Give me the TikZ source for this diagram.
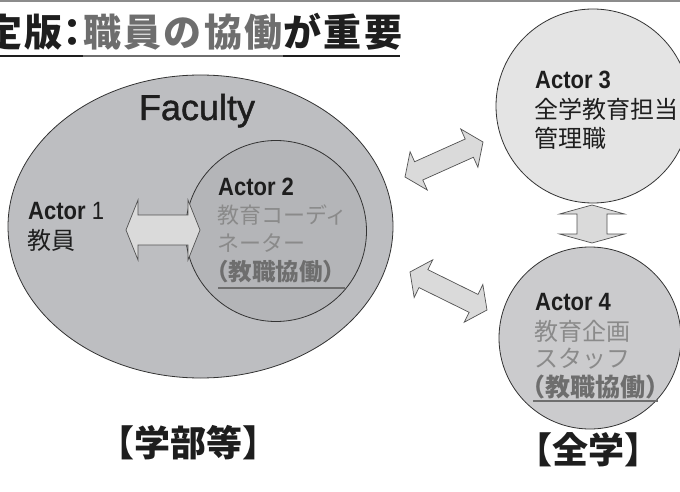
\documentclass[tikz,border=0pt]{standalone}
\usepackage{fontspec}
\setmainfont{Liberation Sans}
\newfontfamily\jp{Noto Sans CJK JP}
\newfontfamily\jpt[LetterSpace=6.5]{Noto Sans CJK JP}
\newfontfamily\nar[FakeStretch=0.88]{Liberation Sans}
\newfontfamily\facfont[FakeBold=1.2]{Liberation Sans}
\usetikzlibrary{shapes.geometric,calc}
\definecolor{bandgray}{HTML}{8C8C8C}
\definecolor{titlegray}{HTML}{6E6E6E}
\definecolor{facgray}{HTML}{BDBEC1}
\definecolor{innergray}{HTML}{B4B5B8}
\definecolor{a3gray}{HTML}{E4E4E4}
\definecolor{a4gray}{HTML}{CBCBCD}
\definecolor{arrgray}{HTML}{DADADA}
\definecolor{linegray}{HTML}{333333}
\definecolor{ltext}{HTML}{8A8A8A}
\definecolor{btext}{HTML}{6E6E6E}
\definecolor{ink}{HTML}{1E1E1E}
\tikzset{
  lbl/.style={inner sep=0pt, anchor=base west, text=ink},
  blob/.style={draw=linegray, line width=0.8pt, inner sep=0pt},
  blockarrow/.style={draw=linegray!85, line width=0.7pt, fill=arrgray, line join=miter},
  actorfont/.style={font=\nar\bfseries\fontsize{25}{28}\selectfont},
  jpfont/.style={font=\jp\fontsize{24}{28}\selectfont},
  jpsmall/.style={font=\jp\fontsize{22}{28}\selectfont},
  titlefont/.style={font=\jpt\bfseries\fontsize{38}{40}\selectfont},
  ul/.style={line width=2pt}
}
\newcommand\dblarrow[6]{%
  \coordinate (#1-p) at ($(#2)!#4!(#3)$);
  \coordinate (#1-q) at ($(#3)!#4!(#2)$);
  \draw[blockarrow] (#2) -- ($(#1-p)!#5!90:(#3)$) -- ($(#1-p)!#6!90:(#3)$)
    -- ($(#1-q)!#6!-90:(#2)$) -- ($(#1-q)!#5!-90:(#2)$) -- (#3)
    -- ($(#1-q)!#5!90:(#2)$) -- ($(#1-q)!#6!90:(#2)$)
    -- ($(#1-p)!#6!-90:(#3)$) -- ($(#1-p)!#5!-90:(#3)$) -- cycle;
}
\begin{document}
\begin{tikzpicture}[x=1pt,y=-1pt]
\useasboundingbox (0,0) rectangle (680,492);
\fill[white] (0,0) rectangle (680,492);
\fill[bandgray] (0,0) rectangle (680,2.5);

% title
\node[lbl, titlefont] (t1) at (-16,47) {定版\kern-9pt：\kern-9pt};
\node[lbl, titlefont, text=titlegray] (t2) at (t1.base east) {職員の協働};
\node[lbl, titlefont] (t3) at (t2.base east) {が重要};
\draw[ul, ink] ([yshift=-9pt]t1.base west) -- ([yshift=-9pt]t1.base east);
\draw[ul, titlegray] ([yshift=-9pt]t2.base west) -- ([yshift=-9pt]t2.base east);
\draw[ul, ink] ([yshift=-9pt]t3.base west) -- ([yshift=-9pt,xshift=-2pt]t3.base east);

% faculty
\node[blob, fill=facgray, ellipse, minimum width=385pt, minimum height=303pt] (fac) at (200.5,226.5) {};
\node[inner sep=0pt, anchor=base, text=ink, font=\facfont\fontsize{36}{40}\selectfont] (factxt) at (197,120) {Faculty};
\node[blob, fill=innergray, circle, minimum size=181pt] (inner) at (276,231) {};

% actor 3 and 4
\node[blob, fill=a3gray, circle, minimum size=194pt] (c3) at (593,106) {};
\node[blob, fill=a4gray, circle, minimum size=182pt] (c4) at (590,338) {};

% arrows
\coordinate (h-a) at (126,230); \coordinate (h-b) at (200,230);
\dblarrow{h}{h-a}{h-b}{12pt}{30pt}{15pt}
\coordinate (v-a) at (592,205); \coordinate (v-b) at (592,243);
\dblarrow{v}{v-a}{v-b}{9pt}{32.5pt}{15pt}
\coordinate (u-a) at (405,177); \coordinate (u-b) at (483,142);
\dblarrow{u}{u-a}{u-b}{15pt}{21pt}{10pt}
\coordinate (d-a) at (410,272); \coordinate (d-b) at (487,310);
\dblarrow{d}{d-a}{d-b}{15pt}{21pt}{10pt}

% actor 1
\node[lbl, font=\nar\fontsize{25}{28}\selectfont] (a1) at (28,219) {{\bfseries Actor} 1};
\node[lbl, jpfont] (a1j) at (27,249) {教員};

% actor 2
\node[lbl, actorfont] (a2) at (218,195) {Actor 2};
\node[lbl, jpsmall, text=ltext] (a2l1) at (217,223.5) {教育コーディ};
\node[lbl, jpsmall, text=ltext] (a2l2) at (217,251.5) {ネーター};
\node[lbl, text=btext, font=\jp\bfseries\fontsize{23.5}{28}\selectfont] (a2l3) at (205,280.5) {（教職協働）};
\coordinate (a2u1) at (218,288); \coordinate (a2u2) at (345,288);
\draw[ul, btext] (a2u1) -- (a2u2);

% actor 3
\node[lbl, actorfont] (a3) at (535,89) {Actor 3};
\node[lbl, jpfont] (a3l1) at (534,119) {全学教育担当};
\node[lbl, jpfont] (a3l2) at (534,147) {管理職};

% actor 4
\node[lbl, actorfont] (a4) at (535,310) {Actor 4};
\node[lbl, jpfont, text=ltext] (a4l1) at (534,340) {教育企画};
\node[lbl, jpfont, text=ltext] (a4l2) at (534,367) {スタッフ};
\node[lbl, text=btext, font=\jp\bfseries\fontsize{25}{28}\selectfont] (a4l3) at (520,396) {（教職協働）};
\coordinate (a4u1) at (533,401); \coordinate (a4u2) at (658,401);
\draw[ul, btext] (a4u1) -- (a4u2);

% bottom labels
\node[inner sep=0pt, text=ink, font=\jp\bfseries\fontsize{36}{40}\selectfont] (lab1) at (188,443) {【学部等】};
\node[inner sep=0pt, text=ink, font=\jp\bfseries\fontsize{36}{40}\selectfont] (lab2) at (588,450) {【全学】};
\end{tikzpicture}
\end{document}
